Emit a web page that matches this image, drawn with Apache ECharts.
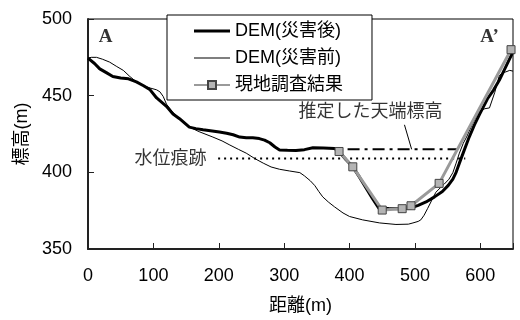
<!DOCTYPE html>
<html><head><meta charset="utf-8">
<script src="https://cdn.jsdelivr.net/npm/echarts@6/dist/echarts.min.js"></script>
<style>html,body{margin:0;padding:0;background:#fff}#c{width:520px;height:320px}</style>
</head><body><div id="c"></div>
<script>
// ---- data (distance m, elevation m) ----
const demAfter = [[0,474.5],[10,471],[18,467.5],[28,465],[38,462.5],[50,461.5],[62,461],[74,459],[85,456.5],[95,453.8],[105,448.5],[120,443],[130,438],[140,435],[155,429.5],[165,428.5],[176,427.8],[190,427],[201,426.3],[212,425.5],[222,424.5],[232,423],[242,422.5],[252,422.5],[262,422],[270,421],[278,419.3],[286,416.5],[293,414.6],[305,414.4],[318,414.2],[331,414.8],[344,416],[360,415.8],[377,415.6],[384,413.6],[395,408],[405,403.6],[415,397],[425,390],[435,383],[445,376.5],[460,376.4],[480,376.3],[494,376.8],[505,378.5],[517,380.7],[530,384],[542,387.5],[551,391.5],[558,395.6],[563,400],[568,406],[575,414],[583,423],[591,431],[599,438],[611,448],[620,453.5],[629,460],[638,468],[647,476],[650,479]];
const demBefore = [[0,474.5],[5,475],[13,475],[22,473.8],[33,471.9],[44,469],[54,466.5],[64,462.5],[74,459],[85,456.5],[95,455],[105,453.8],[110,452.5],[115,449.5],[120,444.5],[130,439],[140,435],[155,429.5],[170,426.5],[191,423],[205,420.5],[217,417.8],[230,415],[242,412.5],[255,409],[268,406],[280,403.5],[293,402],[308,400.9],[324,399.8],[331,397.7],[340,394.5],[347,391.3],[353,387.5],[359,384],[368,380.5],[377,377.5],[390,373.5],[400,371.2],[420,369],[446,367],[471,366],[490,366.2],[497,367],[505,368],[509,369],[514,372],[519.5,376.5],[526,382],[532,387],[539,390],[545,392.4],[552,395.5],[558,399.8],[563,406],[568,412.5],[574,419],[579,423],[588,431.6],[599,440],[607,441.5],[614,442],[622,452],[629,463],[634,465],[639,465.5],[645,466.5],[650,466]];
const survey = [[384,413.6],[405,403.6],[450,375.4],[480.5,376.3],[494,378.2],[537,392.8],[647,480]];
const waterMark = [[199,409],[577,409]];
const crestLine = [[397,415],[565,415]];
const crestLeader = [[484,431],[495,415]];
const seriesNames = ['DEM(災害後)','DEM(災害前)','現地調査結果'];
const xTicks = [0,100,200,300,400,500,600];
const yTicks = [350,400,450,500];
const notes = [
  {text:'水位痕跡', at:[126,408.5]},
  {text:'推定した天端標高', at:[432,439.6]}
];
const sectionMarks = [
  {text:'A', at:[27,488.5]},
  {text:'A’', at:[614,488.5]}
];

const FONT = '"Liberation Sans","Noto Sans CJK JP",sans-serif';
// legend line icons: invisible moveTo corners fix the 36x10 box, a bar of given thickness in the middle
const lineIcon = t => 'path://M0,0M36,10M0,' + (5 - t/2) + 'h36v' + t + 'h-36z';
const chart = echarts.init(document.getElementById('c'), null, {renderer:'canvas'});
const option = {
  animation:false,
  backgroundColor:'#fff',
  textStyle:{fontFamily:FONT},
  grid:{left:88,right:7,top:19,bottom:65,show:true,borderColor:'#000',borderWidth:1,backgroundColor:'transparent'},
  legend:{
    data:[
      {name:seriesNames[0], icon:lineIcon(3)},
      {name:seriesNames[1], icon:lineIcon(1)},
      {name:seriesNames[2]}
    ],
    orient:'vertical', left:167, top:15,
    itemWidth:36, itemHeight:10, itemGap:9,
    padding:[7,29,6,26],
    borderColor:'#000', borderWidth:1, backgroundColor:'#fff', borderRadius:0,
    textStyle:{fontFamily:FONT,fontSize:18,color:'#000',lineHeight:18},
    z:10
  },
  xAxis:{
    type:'value', min:0, max:650, interval:100,
    name:'距離(m)', nameLocation:'middle', nameGap:48,
    nameTextStyle:{fontFamily:FONT,fontSize:18,color:'#000'},
    axisLine:{lineStyle:{color:'#222',width:2}},
    axisTick:{inside:true,length:6,lineStyle:{color:'#222',width:1}},
    axisLabel:{fontFamily:FONT,fontSize:18,color:'#000',margin:18,
      formatter:v => xTicks.indexOf(v)>=0 ? String(v) : ''},
    splitLine:{show:false}
  },
  yAxis:{
    type:'value', min:350, max:500, interval:50,
    name:'標高(m)', nameLocation:'middle', nameGap:56, nameRotate:90,
    nameTextStyle:{fontFamily:FONT,fontSize:18,color:'#000'},
    axisLine:{show:true,lineStyle:{color:'#222',width:2}},
    axisTick:{show:true,inside:true,length:6,lineStyle:{color:'#222',width:1}},
    axisLabel:{fontFamily:FONT,fontSize:18,color:'#000',margin:16,
      formatter:v => yTicks.indexOf(v)>=0 ? String(v) : ''},
    splitLine:{show:false}
  },
  series:[
    {name:seriesNames[1], type:'line', data:demBefore, symbol:'none', smooth:false,
      lineStyle:{color:'#000',width:1}, itemStyle:{color:'#000'}, z:2},
    {name:'water', type:'line', data:waterMark, symbol:'none',
      lineStyle:{color:'#000',width:2,type:[2,4]}, z:3},
    {name:'crest', type:'line', data:crestLine, symbol:'none',
      lineStyle:{color:'#000',width:2,type:[12,5,3,5]}, z:3},
    {name:'leader', type:'line', data:crestLeader, symbol:'none',
      lineStyle:{color:'#000',width:1}, z:3},
    {name:seriesNames[0], type:'line', data:demAfter, symbol:'none',
      lineStyle:{color:'#000',width:3}, itemStyle:{color:'#000'}, z:4},
    {name:seriesNames[2], type:'line', data:survey, symbol:'rect', symbolSize:8,
      lineStyle:{color:'#9a9a9a',width:3},
      itemStyle:{color:'#b4b4b4',borderColor:'#444',borderWidth:1}, z:5},
    {name:'notes', type:'scatter', symbolSize:0, silent:true,
      data:notes.map(n=>({value:n.at,name:n.text})),
      label:{show:true,position:'inside',formatter:p=>p.name,fontFamily:FONT,fontSize:18,color:'#000'}, z:6},
    {name:'marks', type:'scatter', symbolSize:0, silent:true,
      data:sectionMarks.map(n=>({value:n.at,name:n.text})),
      label:{show:true,position:'inside',formatter:p=>p.name,fontFamily:'"Liberation Serif",serif',fontWeight:'bold',fontSize:19,color:'#000'}, z:6}
  ]
};
chart.setOption(option);
</script></body></html>
